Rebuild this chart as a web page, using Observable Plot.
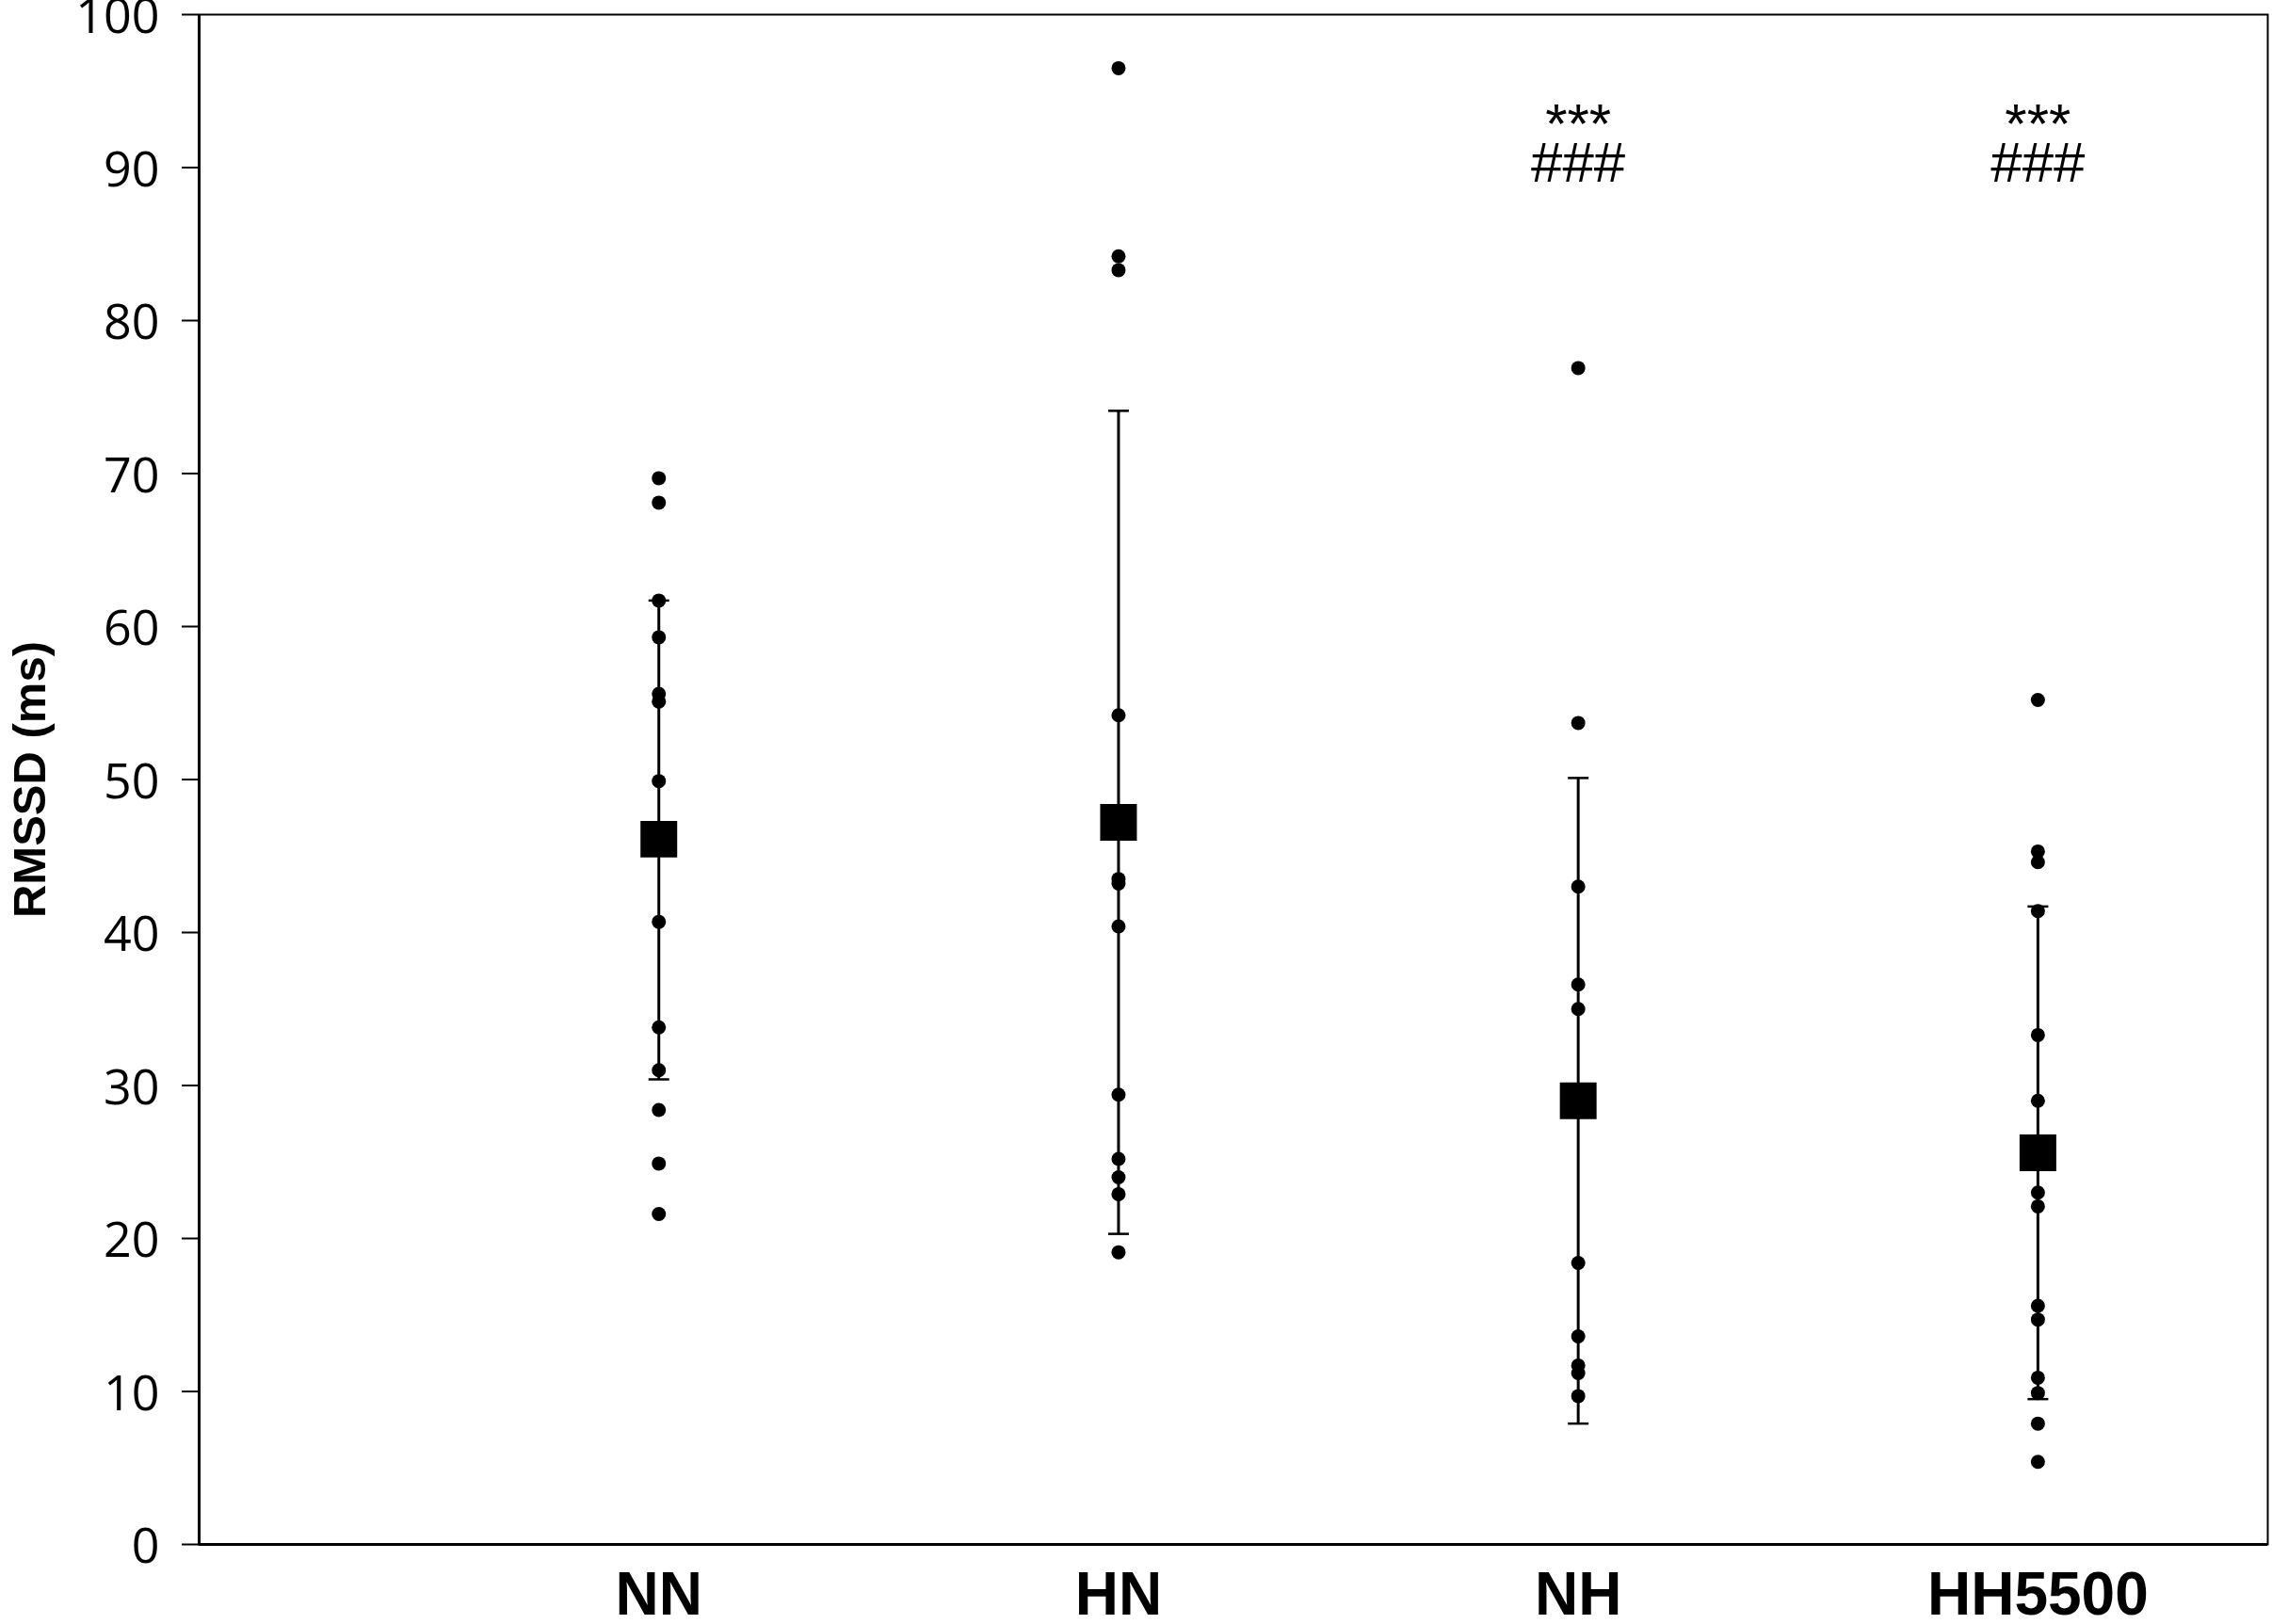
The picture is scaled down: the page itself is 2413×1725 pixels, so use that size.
<!DOCTYPE html>
<html>
<head>
<meta charset="utf-8">
<script src="https://cdn.jsdelivr.net/npm/d3@7"></script>
<script src="https://cdn.jsdelivr.net/npm/@observablehq/plot@0.6"></script>
<style>
  html, body { margin: 0; padding: 0; background: #fff; }
  #chart svg { display: block; }
</style>
</head>
<body>
<div id="chart"></div>
<script>
// ---- Data ----
const groups = ["NN", "HN", "NH", "HH5500"];
const nnValues = [69.7, 68.1, 61.7, 59.3, 55.6, 55.1, 49.9, 40.7, 33.8, 31.0, 28.4, 24.9, 21.6];
const hnValues = [96.5, 84.2, 83.3, 54.2, 43.5, 43.2, 40.4, 29.4, 25.2, 24.0, 22.9, 19.1];
const nhValues = [76.9, 53.7, 43.0, 36.6, 35.0, 18.4, 13.6, 11.7, 11.2, 9.7];
const hhValues = [55.2, 45.3, 44.6, 41.4, 33.3, 29.0, 23.0, 22.1, 15.6, 14.7, 10.9, 9.9, 7.9, 5.4];
const means   = [46.1, 47.2, 29.0, 25.6];
const errLow  = [30.4, 20.3, 7.9, 9.5];
const errHigh = [61.7, 74.1, 50.1, 41.7];
const yTicks = [0, 10, 20, 30, 40, 50, 60, 70, 80, 90, 100];
const yLabel = "RMSSD (ms)";
const annotGroups = ["NH", "HH5500"];
const starText = "***";
const hashText = "###";
const starY = 91.6;
const hashY = 89.1;

// ---- Tables built from the arrays ----
const seriesValues = [nnValues, hnValues, nhValues, hhValues];
const points = seriesValues.flatMap((vals, i) => vals.map(v => ({pos: i + 1, value: v})));
const summary = groups.map((g, i) => ({pos: i + 1, group: g, mean: means[i], lo: errLow[i], hi: errHigh[i]}));
const caps = summary.flatMap(d => [{pos: d.pos, y: d.lo}, {pos: d.pos, y: d.hi}]);
const annots = annotGroups.map(g => ({pos: groups.indexOf(g) + 1}));

// Horizontal line symbol for error-bar caps
const capSymbol = {
  draw(context, size) {
    const w = Math.sqrt(size / Math.PI);
    context.moveTo(-w, 0);
    context.lineTo(w, 0);
  }
};

const chart = Plot.plot({
  width: 2413,
  height: 1725,
  marginLeft: 211,
  marginRight: 5,
  marginTop: 15,
  marginBottom: 85,
  style: {fontFamily: "'Open Sans', sans-serif", fontSize: "52px", color: "black", background: "white", overflow: "visible"},
  x: {domain: [0, 4.5], axis: null},
  y: {domain: [0, 100], axis: null},
  marks: [
    Plot.frame({stroke: "black", strokeWidth: 2}),
    // y ticks and their labels
    Plot.axisY({ticks: yTicks, tickSize: 18, strokeWidth: 2, label: null, text: null}),
    Plot.text(yTicks, {y: d => d, text: d => String(d), frameAnchor: "left", textAnchor: "end",
      dx: -42, dy: 3, fontSize: 52, fontFamily: "'Open Sans', sans-serif", fill: "black"}),
    Plot.ruleX([0], {y1: 0, y2: 100, stroke: "black", strokeWidth: 3}),
    Plot.ruleY([0], {stroke: "black", strokeWidth: 3}),
    // error bars
    Plot.ruleX(summary, {x: "pos", y1: "lo", y2: "hi", stroke: "black", strokeWidth: 3}),
    Plot.dot(caps, {x: "pos", y: "y", symbol: capSymbol, r: 11, fill: "none", stroke: "black", strokeWidth: 2.5}),
    // individual values
    Plot.dot(points, {x: "pos", y: "value", r: 7.5, fill: "black", stroke: "none"}),
    // means
    Plot.dot(summary, {x: "pos", y: "mean", symbol: "square", r: 22, fill: "black", stroke: "none"}),
    // significance annotations
    Plot.text(annots, {x: "pos", y: () => starY, text: () => starText, lineAnchor: "bottom",
      fontSize: 60, fontFamily: "'Liberation Sans', Arial, sans-serif", fill: "black"}),
    Plot.text(annots, {x: "pos", y: () => hashY, text: () => hashText, lineAnchor: "bottom",
      fontSize: 60, fontFamily: "'Liberation Sans', Arial, sans-serif", fill: "black"}),
    // x category labels
    Plot.text(summary, {x: "pos", text: "group", frameAnchor: "bottom", lineAnchor: "top", dy: 29,
      fontSize: 64, fontWeight: "bold", fontFamily: "'Liberation Sans', Arial, sans-serif", fill: "black"}),
    // y axis title
    Plot.text([yLabel], {text: d => d, frameAnchor: "left", textAnchor: "middle", rotate: -90, dx: -179,
      fontSize: 49, fontWeight: "bold", fontFamily: "'Liberation Sans', Arial, sans-serif", fill: "black"})
  ]
});
document.getElementById("chart").appendChild(chart);
</script>
</body>
</html>
